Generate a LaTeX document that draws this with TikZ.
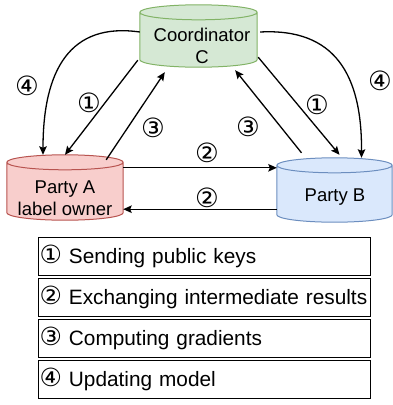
\documentclass[tikz,border=0pt]{standalone}
\usepackage{fontspec}
\setmainfont{Liberation Sans}
\newfontfamily\symfont{DejaVu Sans}
\usetikzlibrary{arrows.meta,calc}
\definecolor{gfill}{HTML}{D5E8D4}\definecolor{gdraw}{HTML}{82B366}
\definecolor{rfill}{HTML}{F8CECC}\definecolor{rdraw}{HTML}{B85450}
\definecolor{bfill}{HTML}{DAE8FC}\definecolor{bdraw}{HTML}{6C8EBF}
\newcommand{\cylpath}[4]{% name, fill, draw, ry
  \path[fill=#2,draw=#3,line width=1pt]
    let \p1=(#1.north west), \p2=(#1.south east), \n1={(\x2-\x1)/2} in
    (\x1,\y1-#4pt) -- (\x1,\y2+#4pt) arc (180:360:\n1 and #4pt) -- (\x2,\y1-#4pt) arc (0:180:\n1 and #4pt) -- cycle
    (\x1,\y1-#4pt) arc (180:360:\n1 and #4pt);}
\newcommand{\cnum}[1]{{\symfont\fontsize{25}{24}\selectfont #1}}
\begin{document}
\begin{tikzpicture}[x=1pt,y=1pt,
  box/.style={draw=none,minimum width=#1,inner sep=0pt},
  conn/.style={line width=1.3pt,-{Stealth[length=8.5pt,width=7.5pt,inset=1.5pt]}},
  num/.style={font=\symfont\fontsize{26.5}{28}\selectfont,inner sep=0pt},
  lab/.style={font=\fontsize{18.5}{22}\selectfont,align=center,inner sep=0pt},
  legend/.style={draw,line width=1.2pt,anchor=north west,minimum height=38pt,text width=330pt,inner xsep=1pt,inner ysep=0pt,align=left,font=\fontsize{20.8}{24}\selectfont}]
\useasboundingbox (0,0) rectangle (393,-405);
% invisible extents of the cylinders
\node[box=117pt,minimum height=62pt] (C) at (198.5,-36) {};
\node[box=116pt,minimum height=65pt] (A) at (65,-187.5) {};
\node[box=115pt,minimum height=64pt] (B) at (334.5,-190) {};
\cylpath{C}{gfill}{gdraw}{7.5}
\cylpath{A}{rfill}{rdraw}{7.5}
\cylpath{B}{bfill}{bdraw}{7.5}
\node[lab] (Ct) at (202,-46) {Coordinator\\C};
\node[lab] (At) at (65,-198.5) {Party A\\label owner};
\node[lab] (Bt) at (335,-197) {Party B};
% connectors
\draw[conn] ([shift={(-2,7)}]C.south west) -- (A.north);
\draw[conn] ([shift={(-17,-5)}]A.north east) -- ([shift={(25,-5)}]C.south west);
\draw[conn] ([shift={(1,10)}]C.south east) -- ([shift={(5,3)}]B.north);
\draw[conn] ([shift={(-33,5)}]B.north) -- ([shift={(-22,-3)}]C.south east);
\draw[conn] ([yshift=-13]A.north east) -- ([yshift=-10]B.north west);
\draw[conn] ([yshift=13]B.south west) -- ([yshift=11]A.south east);
\draw[conn] ([yshift=4]C.west) .. controls (70,-22) and (43,-70) .. ([xshift=-22]A.north);
\draw[conn] ([shift={(3,4)}]C.east) .. controls (335,-28) and (362,-75) .. ([xshift=27]B.north);
% number labels
\node[num] (n1a) at (89,-103) {①};
\node[num] (n3a) at (153,-128) {③};
\node[num] (n1b) at (317,-105) {①};
\node[num] (n3b) at (248,-127) {③};
\node[num] (n2a) at (207,-153) {②};
\node[num] (n2b) at (207,-198) {②};
\node[num] (n4a) at (27,-86) {④};
\node[num] (n4b) at (380,-81) {④};
% legend
\node[legend] (L1) at (38,-237) {\cnum{①} Sending public keys};
\node[legend] (L2) at (38,-278) {\cnum{②} Exchanging intermediate results};
\node[legend] (L3) at (38,-319) {\cnum{③} Computing gradients};
\node[legend] (L4) at (38,-360) {\cnum{④} Updating model};
\end{tikzpicture}
\end{document}
